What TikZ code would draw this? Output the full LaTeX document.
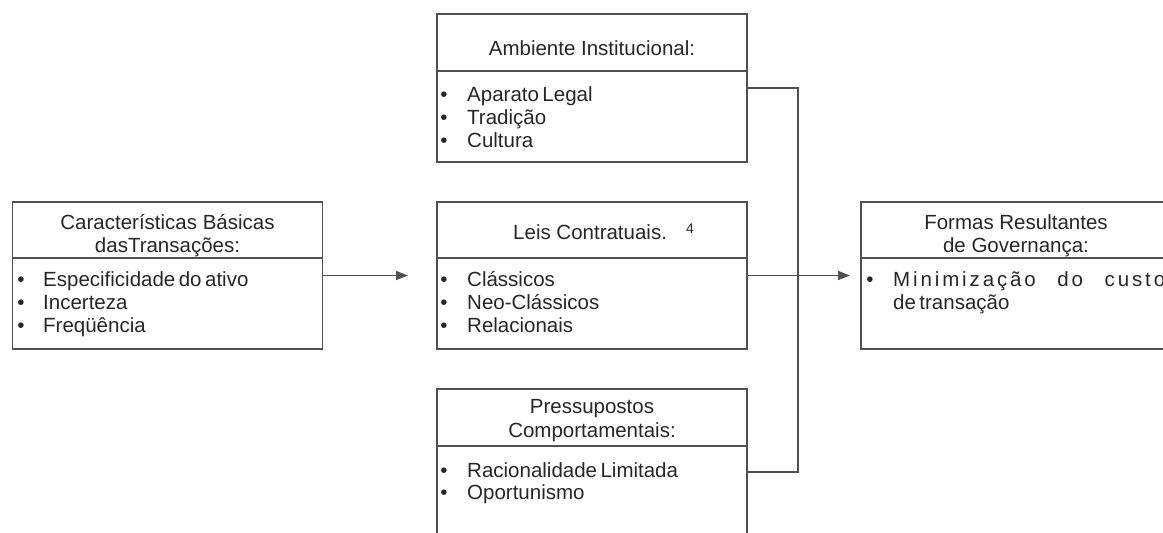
\documentclass[tikz,border=0pt]{standalone}
\usepackage{fontspec}
\setmainfont{Liberation Sans}
\usetikzlibrary{arrows.meta}
\definecolor{ink}{HTML}{262626}
\definecolor{rulec}{HTML}{505050}
\newcommand\nsp{\hspace{0.17em}}
\begin{document}
\begin{tikzpicture}[x=1pt,y=-1pt,
  box/.style={draw=rulec,line width=1.4pt,minimum width=310pt,inner sep=0pt,outer sep=0pt,rectangle},
  divider/.style={draw=rulec,line width=1.4pt},
  txt/.style={anchor=base west,inner sep=0pt,text=ink,font=\fontsize{20.5}{23}\selectfont},
  ttl/.style={anchor=base,inner sep=0pt,text=ink,font=\fontsize{20.5}{23}\selectfont},
  bul/.style={anchor=base,inner sep=0pt,text=ink,font=\fontsize{20.5}{23}\selectfont},
  conn/.style={draw=rulec,line width=1.4pt},
  arr/.style={conn,-{Triangle[length=12pt,width=9pt]}}]
\useasboundingbox (0,0) rectangle (1163,533);
\clip (0,0) rectangle (1163,533);

% boxes
\node[box,minimum height=147pt] (carac) at (167.5,275.5) {};
\node[box,minimum height=148pt] (amb) at (592,88) {};
\node[box,minimum height=147pt] (leis) at (592,275.5) {};
\node[box,minimum height=166pt] (pres) at (592,472) {};
\node[box,minimum height=147pt] (formas) at (1016,275.5) {};

% dividers
\draw[divider] ([yshift=-56pt]carac.north west) -- ([yshift=-56pt]carac.north east);
\draw[divider] ([yshift=-57pt]amb.north west) -- ([yshift=-57pt]amb.north east);
\draw[divider] ([yshift=-56pt]leis.north west) -- ([yshift=-56pt]leis.north east);
\draw[divider] ([yshift=-57pt]pres.north west) -- ([yshift=-57pt]pres.north east);
\draw[divider] ([yshift=-56pt]formas.north west) -- ([yshift=-56pt]formas.north east);

% left box text
\node[ttl] (c1) at (167.5,229) {Características Básicas};
\node[ttl] (c2) at (167.5,252) {dasTransações:};
\node[bul] (cb1) at (21,286) {•};
\node[bul] (cb2) at (21,309) {•};
\node[bul] (cb3) at (21,332) {•};
\node[txt] (ci1) at (43,286) {Especificidade\nsp do\nsp ativo};
\node[txt] (ci2) at (43,309) {Incerteza};
\node[txt] (ci3) at (43,332) {Freqüência};

% top box text
\node[ttl] (a1) at (592,55) {Ambiente Institucional:};
\node[bul] (ab1) at (444,101) {•};
\node[bul] (ab2) at (444,124) {•};
\node[bul] (ab3) at (444,147) {•};
\node[txt] (ai1) at (467,101) {Aparato\nsp Legal};
\node[txt] (ai2) at (467,124) {Tradição};
\node[txt] (ai3) at (467,147) {Cultura};

% middle box text
\node[txt] (l1) at (513,239) {Leis Contratuais.};
\node[txt,font=\fontsize{14}{16}\selectfont] (l4) at (686,233) {4};
\node[bul] (lb1) at (444,286) {•};
\node[bul] (lb2) at (444,309) {•};
\node[bul] (lb3) at (444,332) {•};
\node[txt] (li1) at (467,286) {Clássicos};
\node[txt] (li2) at (467,309) {Neo-Clássicos};
\node[txt] (li3) at (467,332) {Relacionais};

% bottom box text
\node[ttl] (p1) at (592,413) {Pressupostos};
\node[ttl] (p2) at (592,437) {Comportamentais:};
\node[bul] (pb1) at (444,477) {•};
\node[bul] (pb2) at (444,499) {•};
\node[txt] (pi1) at (467,477) {Racionalidade\nsp Limitada};
\node[txt] (pi2) at (467,499) {Oportunismo};

% right box text
\node[ttl] (f1) at (1016,229) {Formas Resultantes};
\node[ttl] (f2) at (1016,252) {de Governança:};
\node[bul] (fb1) at (870,286) {•};
\node[txt] (fi1) at (893,286) {\hbox to 272pt{\addfontfeatures{LetterSpace=14}Minimização\hfill do\hfill custo}};
\node[txt] (fi2) at (893,309) {de\nsp transação};

% connectors
\coordinate (bus) at (798,275.5);
\draw[conn] (amb.east) -| (bus);
\draw[conn] (pres.east) -| (bus);
\draw[arr,shorten >=29pt] (carac.east) -- (leis.west);
\draw[arr,shorten >=11pt] (leis.east) -- (formas.west);
\end{tikzpicture}
\end{document}
